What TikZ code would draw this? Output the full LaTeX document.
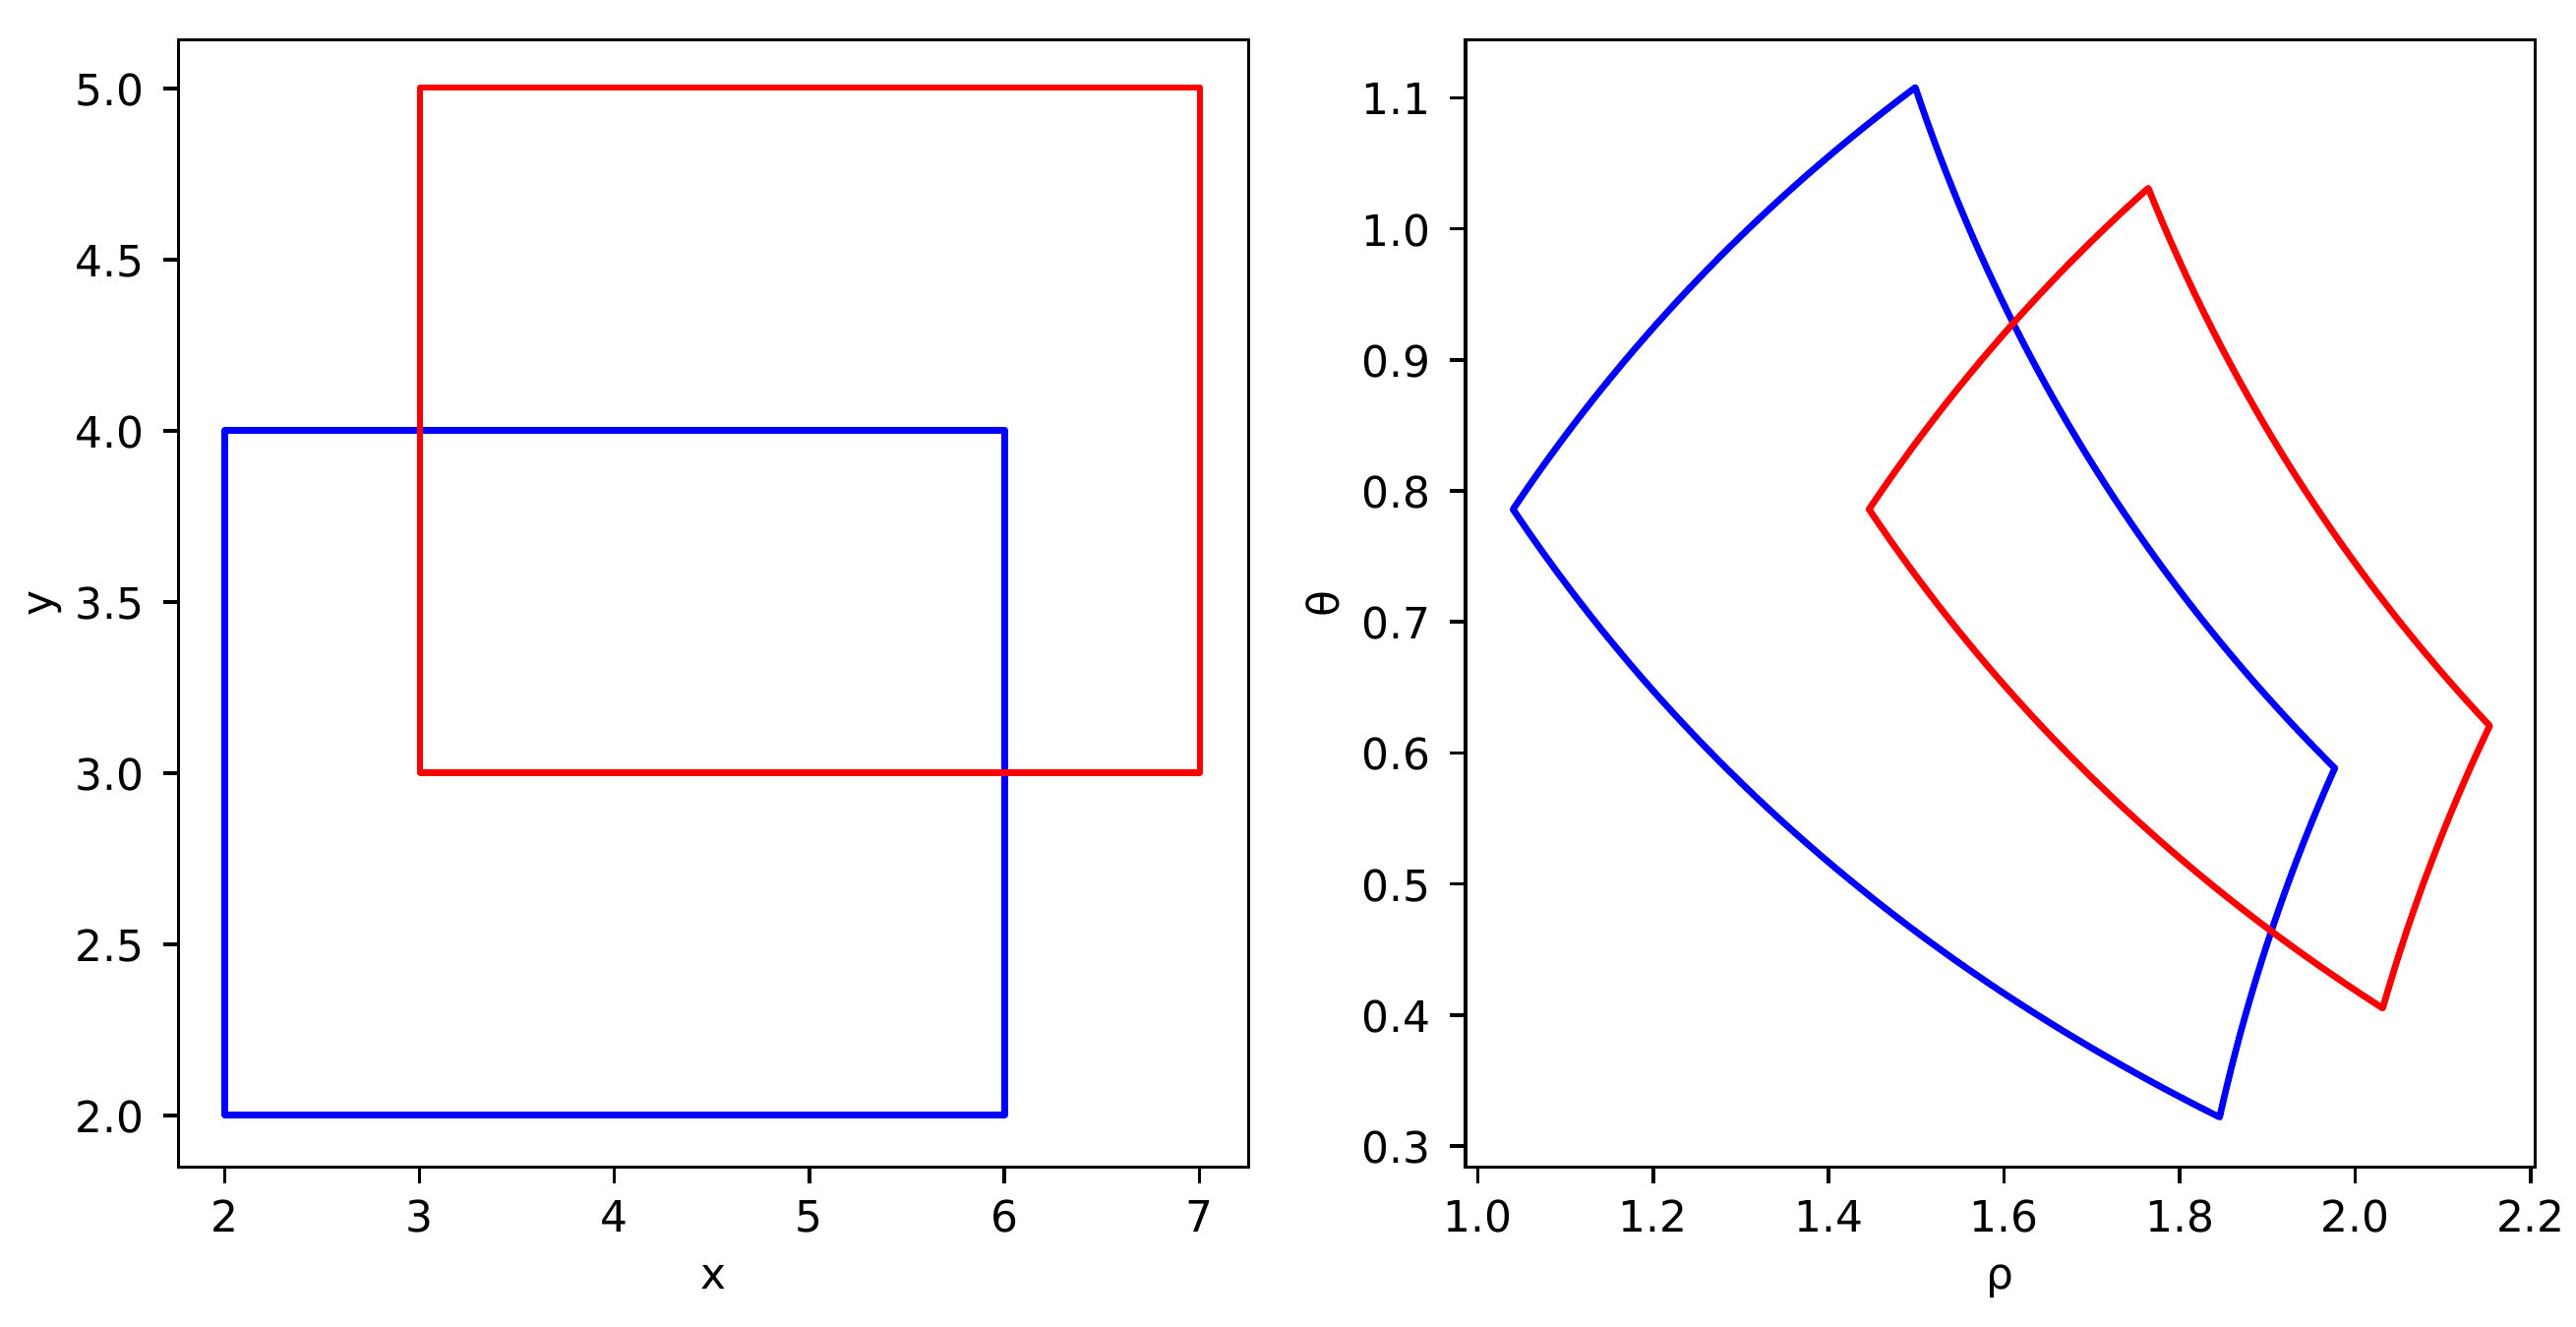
\documentclass[tikz,border=0pt]{standalone}
\usepackage{fontspec}
\setmainfont{DejaVu Sans}
\begin{document}
\begin{tikzpicture}[x=0.01cm,y=-0.01cm,
  font=\fontsize{12.5}{15}\selectfont,
  spine/.style={line width=1.0pt, line join=miter},
  tickmark/.style={line width=1.0pt},
  curve/.style={line width=1.9pt, line join=round},
  ticklab/.style={inner sep=0pt, text=black}]
\useasboundingbox (0,0) rectangle (2619,1349);

% ---------- left axes ----------
\foreach \v in {2,...,7}{
  \pgfmathsetmacro\X{228.3+198.2*(\v-2)}
  \draw[tickmark] (\X,1186.7) -- ++(0,16);
  \node[ticklab, anchor=base] (lxt\v) at (\X,1252) {\v};
}
\foreach \v/\t [count=\i] in {2/2.0,2.5/2.5,3/3.0,3.5/3.5,4/4.0,4.5/4.5,5/5.0}{
  \pgfmathsetmacro\Y{1134-(\v-2)*348}
  \draw[tickmark] (181.7,\Y) -- ++(-16,0);
  \node[ticklab, anchor=base east] (lyt\i) at (147,\Y+17.5) {\t};
}
\node[ticklab, anchor=base] (xlab) at (725.5,1310.7) {x};
\node[ticklab, anchor=base, rotate=90] (ylab) at (53.4,613.7) {y};

\begin{scope}[shift={(-168.1,1830)}, x=1.982cm, y=3.48cm]
  \draw[curve, blue] (2,2) rectangle (6,4);
  \draw[curve, red] (3,3) rectangle (7,5);
\end{scope}
\draw[spine] (181.7,40.7) rectangle (1269.3,1186.7);

% ---------- right axes ----------
\foreach \v/\t [count=\i] in {1/1.0,1.2/1.2,1.4/1.4,1.6/1.6,1.8/1.8,2/2.0,2.2/2.2}{
  \pgfmathsetmacro\X{1502.3+(\v-1)*892.2}
  \draw[tickmark] (\X,1186.7) -- ++(0,16);
  \node[ticklab, anchor=base] (rxt\i) at (\X,1252) {\t};
}
\foreach \v/\t [count=\i] in {0.3/0.3,0.4/0.4,0.5/0.5,0.6/0.6,0.7/0.7,0.8/0.8,0.9/0.9,1.0/1.0,1.1/1.1}{
  \pgfmathsetmacro\Y{1165-(\v-0.3)*1332}
  \draw[tickmark] (1490,\Y) -- ++(-16,0);
  \node[ticklab, anchor=base east] (ryt\i) at (1455,\Y+17.5) {\t};
}
\node[ticklab, anchor=base] (rholab) at (2033.7,1310.7) {ρ};
\node[ticklab, anchor=base, rotate=90] (thetalab) at (1361.7,613.7) {θ};

\begin{scope}[shift={(610.1,1564.5)}, x=8.922cm, y=13.32cm]
  \draw[curve, blue]
    plot[domain=2:4, samples=40, variable=\t] ({0.5*ln(4+\t*\t)},{rad(atan2(\t,2))})
    -- plot[domain=2:6, samples=60, variable=\t] ({0.5*ln(\t*\t+16)},{rad(atan2(4,\t))})
    -- plot[domain=4:2, samples=40, variable=\t] ({0.5*ln(36+\t*\t)},{rad(atan2(\t,6))})
    -- plot[domain=6:2, samples=60, variable=\t] ({0.5*ln(\t*\t+4)},{rad(atan2(2,\t))})
    -- cycle;
  \draw[curve, red]
    plot[domain=3:5, samples=40, variable=\t] ({0.5*ln(9+\t*\t)},{rad(atan2(\t,3))})
    -- plot[domain=3:7, samples=60, variable=\t] ({0.5*ln(\t*\t+25)},{rad(atan2(5,\t))})
    -- plot[domain=5:3, samples=40, variable=\t] ({0.5*ln(49+\t*\t)},{rad(atan2(\t,7))})
    -- plot[domain=7:3, samples=60, variable=\t] ({0.5*ln(\t*\t+9)},{rad(atan2(3,\t))})
    -- cycle;
\end{scope}
\draw[spine] (1490,40.7) rectangle (2577.3,1186.7);
\end{tikzpicture}
\end{document}
